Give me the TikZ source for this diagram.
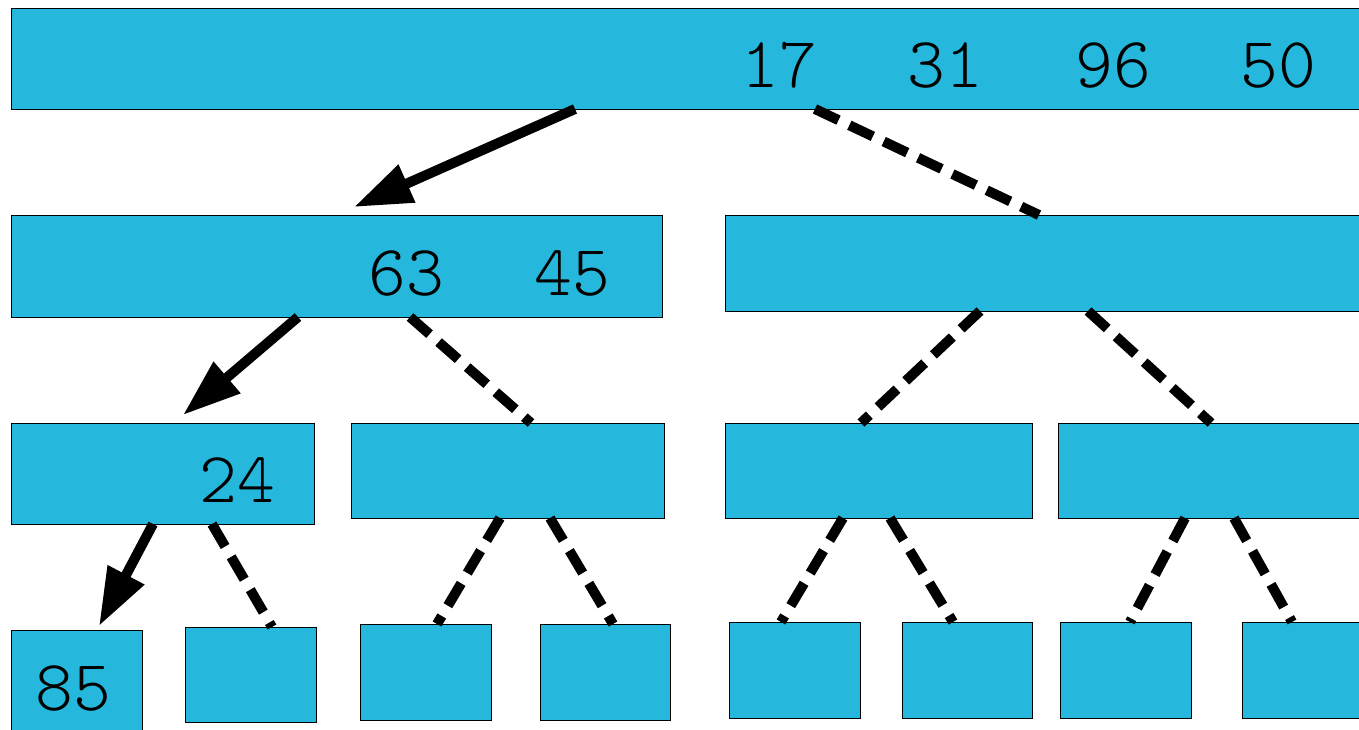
\documentclass[tikz,border=0pt]{standalone}
\usepackage{fontspec}
\newfontfamily\thinmono{lmmonolt10-regular.otf}
\usetikzlibrary{arrows.meta}
\definecolor{cellblue}{RGB}{37,183,220}
\tikzset{
  cell/.style={draw=black, line width=0.8pt, fill=cellblue, inner sep=0pt, outer sep=0pt, anchor=north west},
  key/.style={anchor=base, inner sep=0pt, font=\fontsize{72pt}{72pt}\selectfont\thinmono},
  follow/.style={line width=10pt, -{Triangle[length=58pt,width=39pt]}},
  other/.style={line width=10pt, dash pattern=on 26pt off 12pt}
}
\begin{document}
\begin{tikzpicture}[x=1pt,y=-1pt]
  \useasboundingbox (0,0) rectangle (1359,729);
  \clip (0,0) rectangle (1359,729);
  % root
  \node[cell, minimum width=1389pt, minimum height=101pt] (top) at (11,8) {};
  \node[key] (k17) at (779,87) {17};
  \node[key] (k31) at (945,87) {31};
  \node[key] (k96) at (1113,87) {96};
  \node[key] (k50) at (1278,87) {50};
  % second level
  \node[cell, minimum width=651pt, minimum height=102pt] (l2a) at (11,215) {};
  \node[cell, minimum width=675pt, minimum height=96pt] (l2b) at (725,215) {};
  \node[key] (k63) at (406,295) {63};
  \node[key] (k45) at (572,295) {45};
  % third level
  \node[cell, minimum width=303pt, minimum height=101pt] (l3a) at (11,423) {};
  \node[cell, minimum width=313pt, minimum height=95pt] (l3b) at (351,423) {};
  \node[cell, minimum width=307pt, minimum height=95pt] (l3c) at (725,423) {};
  \node[cell, minimum width=342pt, minimum height=95pt] (l3d) at (1058,423) {};
  \node[key] (k24) at (237,502) {24};
  % leaves
  \node[cell, minimum width=131pt, minimum height=130pt] (l4a) at (11,630) {};
  \node[cell, minimum width=131pt, minimum height=95pt] (l4b) at (185,627) {};
  \node[cell, minimum width=131pt, minimum height=96pt] (l4c) at (360,624) {};
  \node[cell, minimum width=130pt, minimum height=96pt] (l4d) at (540,624) {};
  \node[cell, minimum width=131pt, minimum height=96pt] (l4e) at (729,622) {};
  \node[cell, minimum width=130pt, minimum height=96pt] (l4f) at (902,622) {};
  \node[cell, minimum width=131pt, minimum height=96pt] (l4g) at (1060,622) {};
  \node[cell, minimum width=158pt, minimum height=96pt] (l4h) at (1242,622) {};
  \node[key] (k85) at (73,710) {85};
  % links
  \draw[follow] ([xshift=564pt]top.south west) -- ([xshift=343pt,yshift=8pt]l2a.north west);
  \draw[other] ([xshift=804pt]top.south west) -- ([xshift=314pt]l2b.north west);
  \draw[follow] ([xshift=287pt]l2a.south west) -- ([xshift=172pt,yshift=8pt]l3a.north west);
  \draw[other] ([xshift=399pt]l2a.south west) -- ([xshift=180pt]l3b.north west);
  \draw[other] ([xshift=255pt]l2b.south west) -- ([xshift=136pt]l3c.north west);
  \draw[other] ([xshift=363pt]l2b.south west) -- ([xshift=153pt]l3d.north west);
  \draw[follow] ([xshift=142pt]l3a.south west) -- ([xshift=88pt,yshift=4pt]l4a.north west);
  \draw[other] ([xshift=201pt]l3a.south west) -- ([xshift=87pt]l4b.north west);
  \draw[other] ([xshift=149pt]l3b.south west) -- ([xshift=77pt]l4c.north west);
  \draw[other] ([xshift=199pt]l3b.south west) -- ([xshift=73pt]l4d.north west);
  \draw[other] ([xshift=118pt]l3c.south west) -- ([xshift=52pt]l4e.north west);
  \draw[other] ([xshift=165pt]l3c.south west) -- ([xshift=51pt]l4f.north west);
  \draw[other] ([xshift=127pt]l3d.south west) -- ([xshift=70pt]l4g.north west);
  \draw[other] ([xshift=176pt]l3d.south west) -- ([xshift=50pt]l4h.north west);
\end{tikzpicture}
\end{document}
